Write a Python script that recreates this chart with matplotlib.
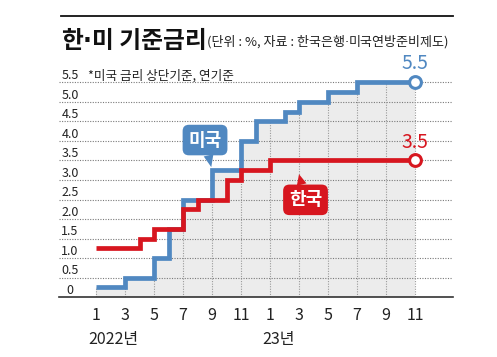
import matplotlib
matplotlib.use("Agg")
import matplotlib.pyplot as plt
from matplotlib.lines import Line2D
import matplotlib.transforms as mtransforms
import numpy as np

plt.rcParams['font.family'] = ['Noto Sans CJK KR', 'DejaVu Sans']

# ---- data (monthly, Jan 2022 .. Nov 2023) ----
months = list(range(23))
us_rate = [0.25, 0.25, 0.5, 0.5, 1.0, 1.75, 2.5, 2.5, 3.25, 3.25, 4.0, 4.5,
           4.5, 4.75, 5.0, 5.0, 5.25, 5.25, 5.5, 5.5, 5.5, 5.5, 5.5]
kr_rate = [1.25, 1.25, 1.25, 1.5, 1.75, 1.75, 2.25, 2.5, 2.5, 3.0, 3.25, 3.25,
           3.5, 3.5, 3.5, 3.5, 3.5, 3.5, 3.5, 3.5, 3.5, 3.5, 3.5]
tick_pos = list(range(0, 23, 2))
tick_labels = ['1', '3', '5', '7', '9', '11', '1', '3', '5', '7', '9', '11']
year_pos = [0, 12]
year_labels = ['2022년', '23년']
y_levels = [0, 0.5, 1.0, 1.5, 2.0, 2.5, 3.0, 3.5, 4.0, 4.5, 5.0, 5.5]
y_labels = ['0', '0.5', '1.0', '1.5', '2.0', '2.5', '3.0', '3.5', '4.0', '4.5', '5.0', '5.5']

BLUE = '#5088c1'
RED = '#d7161f'
FILL = '#ececec'
GRID = '#7a7a7a'
TXT = '#222222'

W, H = 497, 357
fig = plt.figure(figsize=(W / 100, H / 100), dpi=100)
renderer = fig.canvas.get_renderer()


def text_pieces(x_px, y_px, pieces, **kw):
    """Draw consecutive text pieces; each piece is (string, family-or-None)."""
    x = x_px
    for s, fam in pieces:
        extra = {} if fam is None else {'family': fam}
        t = fig.text(x / W, 1 - y_px / H, s, ha='left', va='baseline', **kw, **extra)
        bb = t.get_window_extent(renderer=renderer)
        x = bb.x1
    return x


ax_l, ax_r, ax_b, ax_t = 59, 453, 297, 60
ax = fig.add_axes([ax_l / W, (H - ax_b) / H, (ax_r - ax_l) / W, (ax_b - ax_t) / H])
ax.set_xlim((ax_l - 96) / 14.5, (ax_r - 96) / 14.5)
ax.set_ylim(0, (ax_b - ax_t) / 39.0)

# fill under US line
ax.fill_between(months, us_rate, step='post', color=FILL, lw=0, zorder=1)

# horizontal dotted gridlines
for lv in y_levels[1:]:
    ax.axhline(lv, color=GRID, lw=0.8, ls=(0, (1, 1.3)), zorder=2)

# vertical dotted lines inside fill
us_at_tick = [us_rate[m] for m in tick_pos]
ax.vlines(tick_pos, 0, us_at_tick, colors='#9a9a9a', lw=0.8,
          linestyles=[(0, (1, 1.3))], zorder=2)

# lines
ax.step(months, us_rate, where='post', color=BLUE, lw=3.4, zorder=3,
        solid_joinstyle='miter', solid_capstyle='butt')
ax.step(months, kr_rate, where='post', color=RED, lw=3.4, zorder=4,
        solid_joinstyle='miter', solid_capstyle='butt')
ax.plot(months[-1], us_rate[-1], 'o', ms=8.5, mfc='white', mec=BLUE, mew=2.2, zorder=5)
ax.plot(months[-1], kr_rate[-1], 'o', ms=8.5, mfc='white', mec=RED, mew=2.2, zorder=5)

# end labels
ax.annotate(f'{us_rate[-1]:.1f}', (months[-1], us_rate[-1]), xytext=(0, 10),
            textcoords='offset points', ha='center', va='baseline',
            fontsize=14, color=BLUE)
ax.annotate(f'{kr_rate[-1]:.1f}', (months[-1], kr_rate[-1]), xytext=(0, 9),
            textcoords='offset points', ha='center', va='baseline',
            fontsize=14, color=RED)

# callouts
ax.annotate('미국', xy=(7.95, 3.33), xytext=(-4.5, 19.5), textcoords='offset points',
            ha='center', va='center', fontsize=13, fontweight='bold', color='white',
            bbox=dict(boxstyle='round,pad=0.32,rounding_size=0.35', fc=BLUE, ec='none'),
            arrowprops=dict(arrowstyle='wedge,tail_width=0.55,shrink_factor=0.5',
                            fc=BLUE, ec='none', shrinkA=0, shrinkB=0),
            zorder=6)
ax.annotate('한국', xy=(14.0, 3.15), xytext=(4.7, -18.5), textcoords='offset points',
            ha='center', va='center', fontsize=13, fontweight='bold', color='white',
            bbox=dict(boxstyle='round,pad=0.32,rounding_size=0.35', fc=RED, ec='none'),
            arrowprops=dict(arrowstyle='wedge,tail_width=0.55,shrink_factor=0.5',
                            fc=RED, ec='none', shrinkA=0, shrinkB=0),
            zorder=6)

# axes styling
for s in ['left', 'right', 'top']:
    ax.spines[s].set_visible(False)
ax.spines['bottom'].set_color('#333333')
ax.spines['bottom'].set_linewidth(1.2)
ax.set_yticks([])
ax.set_xticks(tick_pos)
ax.set_xticklabels(tick_labels, fontsize=11.5, color=TXT)
ax.tick_params(axis='x', length=0, pad=7)

# y labels (above gridlines)
ytrans = mtransforms.blended_transform_factory(ax.transAxes, ax.transData)
for lv, lab in zip(y_levels, y_labels):
    ax.text((70 - ax_l) / (ax_r - ax_l), lv, lab, transform=ytrans, ha='center',
            va='bottom', fontsize=9, color=TXT)

# year labels
xtrans = mtransforms.blended_transform_factory(ax.transData, ax.transAxes)
for p, lab in zip(year_pos, year_labels):
    ax.text(p - 0.5, -0.145, lab, transform=xtrans, ha='left', va='top',
            fontsize=11.5, color=TXT)

# note
ax.text((88 - ax_l) / (ax_r - ax_l), 5.5, '*미국 금리 상단기준, 연기준', transform=ytrans,
        ha='left', va='bottom', fontsize=9.1, color=TXT)

# title area
fig.add_artist(Line2D([61 / W, 453 / W], [1 - 16 / H, 1 - 16 / H], color='#111111', lw=1.3))
text_pieces(61, 48, [('한', None), ('·', 'DejaVu Sans'), ('미 기준금리', None)],
            fontsize=17.1, fontweight='bold', color='#111111')
text_pieces(207, 46, [('(단위 : %, 자료 : 한국은행', None), ('·', 'DejaVu Sans'),
                      ('미국연방준비제도)', None)],
            fontsize=9.4, color=TXT)

fig.savefig('out.png', dpi=100)
